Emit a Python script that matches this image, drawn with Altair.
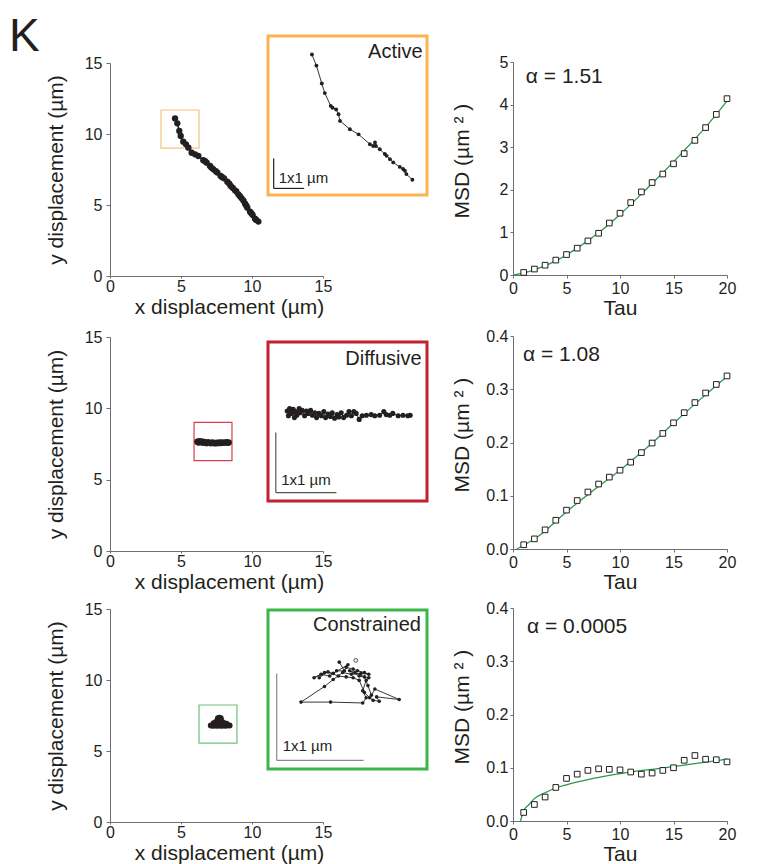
import altair as alt
import pandas as pd

FONT = "Liberation Sans"
INK = "#231f20"
GREEN_FIT = "#2a9a4a"

# ---------------- data ----------------
# Row 1 - Active: main trajectory (µm)
act_x = [4.58, 4.74, 4.88, 4.98, 5.16, 5.35, 5.52, 5.75, 5.99, 6.22, 6.57, 6.70, 6.81, 7.04, 7.15,
         7.28, 7.45, 7.56, 7.79, 7.90, 8.03, 8.26, 8.40, 8.50, 8.65, 8.80, 8.90, 9.04, 9.15, 9.27,
         9.40, 9.51, 9.60, 9.67, 9.86, 9.95, 10.05, 10.21, 10.30, 10.45]
act_y = [11.10, 10.75, 10.21, 9.86, 9.46, 9.27, 9.04, 8.68, 8.57, 8.45, 8.15, 8.08, 7.98, 7.75, 7.62,
         7.51, 7.38, 7.28, 7.04, 6.96, 6.88, 6.64, 6.50, 6.34, 6.20, 6.03, 5.95, 5.75, 5.62, 5.47,
         5.30, 5.09, 4.95, 4.81, 4.53, 4.42, 4.30, 4.04, 3.95, 3.83]
act_roi = [3.59, 6.27, 9.01, 11.69]          # x0, x1, y0, y1 (µm)
# Active inset (µm in inset frame)
act_in_x = [1.47, 1.62, 1.80, 1.90, 2.10, 2.16, 2.28, 2.36, 2.41, 2.74, 3.03, 3.41, 3.52, 3.58, 3.61,
            3.74, 3.91, 3.97, 4.08, 4.19, 4.41, 4.52, 4.58, 4.63, 4.83]
act_in_y = [4.70, 4.33, 3.73, 3.41, 2.98, 2.92, 2.86, 2.70, 2.48, 2.20, 2.03, 1.70, 1.64, 1.76, 1.64,
            1.53, 1.37, 1.31, 1.20, 1.09, 0.94, 0.87, 0.81, 0.70, 0.51]
act_side = 5.32
act_bar = [0.19, 1.21, 0.22, 1.22]           # x0, x1, y0, y1
act_bar_lbl = [0.36, 0.39]
act_lbl = [5.17, 4.59]

# Row 2 - Diffusive
dif_x = [6.15, 6.22, 6.30, 6.38, 6.46, 6.55, 6.63, 6.72, 6.80, 6.90, 7.00, 7.10, 7.20, 7.30, 7.40,
         7.50, 7.60, 7.70, 7.80, 7.90, 8.00, 8.10, 8.20, 8.30, 8.36]
dif_y = [7.66, 7.60, 7.70, 7.62, 7.68, 7.58, 7.65, 7.60, 7.56, 7.63, 7.58, 7.55, 7.61, 7.57, 7.54,
         7.60, 7.56, 7.61, 7.57, 7.62, 7.58, 7.60, 7.63, 7.58, 7.61]
dif_roi = [5.92, 8.59, 6.34, 9.01]
dif_in_x = [0.32, 0.34, 0.36, 0.39, 0.42, 0.44, 0.46, 0.48, 0.52, 0.54, 0.57, 0.61, 0.64, 0.67, 0.71,
            0.74, 0.78, 0.81, 0.85, 0.89, 0.93, 0.96, 1.00, 1.04, 1.07, 1.11, 1.15, 1.18, 1.22, 1.26,
            1.31, 1.35, 1.39, 1.43, 1.47, 1.52, 1.57, 1.64, 1.72, 1.78, 1.86, 1.93, 1.97, 2.03, 2.08,
            2.17, 2.25, 2.33, 2.37]
dif_in_y = [1.50, 1.42, 1.54, 1.46, 1.53, 1.39, 1.49, 1.43, 1.54, 1.47, 1.51, 1.42, 1.50, 1.46, 1.51,
            1.43, 1.47, 1.39, 1.46, 1.42, 1.49, 1.39, 1.45, 1.41, 1.47, 1.38, 1.44, 1.40, 1.47, 1.39,
            1.43, 1.49, 1.42, 1.49, 1.46, 1.36, 1.42, 1.43, 1.44, 1.42, 1.43, 1.49, 1.44, 1.43, 1.46,
            1.42, 1.43, 1.42, 1.43]
dif_side = 2.65
dif_bar = [0.13, 1.14, 0.14, 1.14]
dif_bar_lbl = [0.22, 0.27]
dif_lbl = [2.56, 2.26]

# Row 3 - Constrained
con_x = [7.10, 7.25, 7.40, 7.55, 7.70, 7.85, 8.00, 8.15, 8.30, 8.42, 7.30, 7.45, 7.60, 7.70, 7.80,
         7.90, 8.05, 8.20, 7.50, 7.65, 7.80, 7.95, 7.35, 7.70, 7.60, 7.80]
con_y = [6.80, 6.78, 6.80, 6.77, 6.80, 6.78, 6.80, 6.78, 6.82, 6.80, 6.95, 7.05, 7.15, 7.25, 7.15,
         7.05, 6.95, 6.92, 6.95, 7.00, 6.95, 6.90, 6.88, 7.35, 7.30, 7.30]
con_roi = [6.27, 8.94, 5.56, 8.24]
con_in_x = [0.82, 0.88, 0.79, 0.71, 0.61, 0.53, 0.65, 0.75, 0.92, 0.90, 0.98, 1.03, 1.11, 1.16, 1.07,
            0.96, 0.86, 0.75, 0.65, 0.38, 0.72, 1.09, 1.13, 1.09, 1.13, 1.16, 1.05, 0.94, 1.00, 1.11,
            1.15, 1.19, 1.23, 1.51, 1.25, 1.28, 1.21, 1.17, 1.11, 1.05, 0.98, 0.90, 0.81, 0.69, 0.59]
con_in_y = [1.23, 1.13, 1.13, 1.07, 1.09, 1.05, 1.11, 1.10, 1.20, 1.17, 1.15, 1.13, 1.11, 1.09, 1.10,
            1.09, 1.11, 1.03, 0.95, 0.77, 0.77, 0.76, 0.82, 0.90, 1.02, 1.05, 1.07, 1.13, 1.11, 1.06,
            0.96, 0.85, 0.92, 0.80, 0.83, 0.78, 0.79, 0.82, 0.88, 1.02, 1.05, 1.06, 1.07, 1.12, 1.05]
con_open = [1.01, 1.25]
con_side = 1.83
con_bar = [0.10, 1.10, 0.10, 1.10]
con_bar_lbl = [0.17, 0.21]
con_lbl = [1.76, 1.59]

# MSD curves
tau = list(range(1, 21))
msd_act = [0.06, 0.14, 0.23, 0.35, 0.48, 0.63, 0.80, 0.98, 1.22, 1.45, 1.70, 1.95, 2.17, 2.37, 2.61,
           2.85, 3.16, 3.46, 3.77, 4.14]
msd_dif = [0.008, 0.019, 0.036, 0.054, 0.073, 0.091, 0.107, 0.122, 0.135, 0.148, 0.163, 0.181, 0.199,
           0.217, 0.237, 0.256, 0.275, 0.293, 0.309, 0.325]
msd_con = [0.016, 0.031, 0.045, 0.063, 0.080, 0.088, 0.095, 0.098, 0.097, 0.096, 0.092, 0.088, 0.090,
           0.095, 0.100, 0.114, 0.123, 0.116, 0.115, 0.111]
fit_act_t = [0.1, 2, 4, 6, 8, 10, 12, 14, 16, 18, 20]
fit_act = [0.0, 0.12, 0.33, 0.63, 0.99, 1.42, 1.90, 2.40, 2.92, 3.47, 4.08]
fit_dif_t = [0.35, 2.5, 5, 7.5, 10, 12.5, 15, 17.5, 20]
fit_dif = [0.0, 0.026, 0.070, 0.110, 0.148, 0.190, 0.236, 0.281, 0.324]
fit_con_t = [0.7, 1, 1.5, 2, 3, 4, 5, 7.5, 10, 12.5, 15, 17.5, 20]
fit_con = [0.0, 0.019, 0.031, 0.042, 0.053, 0.062, 0.068, 0.080, 0.089, 0.096, 0.102, 0.109, 0.116]
alpha_txt = ["α = 1.51", "α = 1.08", "α = 0.0005"]
alpha_pos = [[1.2, 4.5], [0.93, 0.353], [1.3, 0.353]]


def traj_chart(mx, my, roi, ix, iy, side, bar, bar_lbl, lbl_pos, name,
               frame_col, roi_col, bar_col, h, main_yr, inset_yr,
               dot_main, dot_in, main_line, open_pt=None, k=False):
    msx = alt.Scale(domain=[0, 15], range=[0, 213], nice=False, zero=False)
    msy = alt.Scale(domain=[0, 15], range=main_yr, nice=False, zero=False)
    isx = alt.Scale(domain=[0, side], range=[158, 317], nice=False, zero=False)
    isy = alt.Scale(domain=[0, side], range=inset_yr, nice=False, zero=False)

    xa = alt.Axis(values=[0, 5, 10, 15], title="x displacement (µm)", tickSize=2, labelPadding=0,
                  minExtent=18, maxExtent=18, titlePadding=2, titleX=119, labelFlush=False)
    ya = alt.Axis(values=[0, 5, 10, 15], title="y displacement (µm)", tickSize=4, labelPadding=4,
                  minExtent=26, maxExtent=26, titlePadding=18, labelFlush=False)

    mdf = pd.DataFrame({"x": mx, "y": my, "i": list(range(len(mx)))})
    idf = pd.DataFrame({"x": ix, "y": iy, "i": list(range(len(ix)))})

    layers = []
    layers.append(
        alt.Chart(pd.DataFrame({"x0": [roi[0]], "x1": [roi[1]], "y0": [roi[2]], "y1": [roi[3]]}))
        .mark_rect(fillOpacity=0, stroke=roi_col, strokeWidth=1.2)
        .encode(x=alt.X("x0:Q", scale=msx, axis=None), x2="x1:Q",
                y=alt.Y("y0:Q", scale=msy, axis=None), y2="y1:Q"))
    if main_line:
        layers.append(
            alt.Chart(mdf).mark_line(color=INK, strokeWidth=1.5)
            .encode(x=alt.X("x:Q", scale=msx, axis=None), y=alt.Y("y:Q", scale=msy, axis=None),
                    order="i:Q"))
    layers.append(
        alt.Chart(mdf).mark_circle(size=dot_main, color=INK, opacity=1)
        .encode(x=alt.X("x:Q", scale=msx, axis=xa), y=alt.Y("y:Q", scale=msy, axis=ya)))
    # inset frame
    layers.append(
        alt.Chart(pd.DataFrame({"x0": [0], "x1": [side], "y0": [0], "y1": [side]}))
        .mark_rect(fillOpacity=0, stroke=frame_col, strokeWidth=3)
        .encode(x=alt.X("x0:Q", scale=isx, axis=None), x2="x1:Q",
                y=alt.Y("y0:Q", scale=isy, axis=None), y2="y1:Q"))
    layers.append(
        alt.Chart(idf).mark_line(color=INK, strokeWidth=0.9)
        .encode(x=alt.X("x:Q", scale=isx, axis=None), y=alt.Y("y:Q", scale=isy, axis=None),
                order="i:Q"))
    layers.append(
        alt.Chart(idf).mark_circle(size=dot_in, color=INK, opacity=1)
        .encode(x=alt.X("x:Q", scale=isx, axis=None), y=alt.Y("y:Q", scale=isy, axis=None)))
    if open_pt is not None:
        layers.append(
            alt.Chart(pd.DataFrame({"x": [open_pt[0]], "y": [open_pt[1]]}))
            .mark_point(shape="circle", size=14, filled=False, color=INK, strokeWidth=0.8, opacity=1)
            .encode(x=alt.X("x:Q", scale=isx, axis=None), y=alt.Y("y:Q", scale=isy, axis=None)))
    bdf = pd.DataFrame({"x0": [bar[0], bar[0]], "x1": [bar[0], bar[1]],
                        "y0": [bar[2], bar[2]], "y1": [bar[3], bar[2]]})
    layers.append(
        alt.Chart(bdf).mark_rule(color=bar_col, strokeWidth=1.2)
        .encode(x=alt.X("x0:Q", scale=isx, axis=None), x2="x1:Q",
                y=alt.Y("y0:Q", scale=isy, axis=None), y2="y1:Q"))
    layers.append(
        alt.Chart(pd.DataFrame({"x": [bar_lbl[0]], "y": [bar_lbl[1]], "t": ["1x1 µm"]}))
        .mark_text(align="left", baseline="alphabetic", fontSize=15, color=INK)
        .encode(x=alt.X("x:Q", scale=isx, axis=None), y=alt.Y("y:Q", scale=isy, axis=None),
                text="t:N"))
    layers.append(
        alt.Chart(pd.DataFrame({"x": [lbl_pos[0]], "y": [lbl_pos[1]], "t": [name]}))
        .mark_text(align="right", baseline="alphabetic", fontSize=20, color=INK)
        .encode(x=alt.X("x:Q", scale=isx, axis=None), y=alt.Y("y:Q", scale=isy, axis=None),
                text="t:N"))
    if k:
        layers.append(
            alt.Chart(pd.DataFrame({"t": ["K"]}))
            .mark_text(align="left", baseline="top", fontSize=46, color=INK)
            .encode(x=alt.value(-101), y=alt.value(-21), text="t:N"))
    return alt.layer(*layers).resolve_scale(x="independent", y="independent").properties(
        width=318, height=h)


def msd_chart(vals, ft, fv, ymax, yvals, yfmt, yr, h, xoff, title_y, atxt, apos):
    sx = alt.Scale(domain=[0, 20], range=[0, 214], nice=False, zero=False)
    sy = alt.Scale(domain=[0, ymax], range=yr, nice=False, zero=False)
    xa = alt.Axis(values=[0, 5, 10, 15, 20], title="Tau", tickSize=3, labelPadding=2,
                  minExtent=21, maxExtent=21, titlePadding=1, offset=xoff, labelFlush=False)
    ya = alt.Axis(values=yvals, format=yfmt, title="MSD (µm ² )", tickSize=3, labelPadding=2,
                  minExtent=27, maxExtent=27, titlePadding=14, titleY=title_y, labelFlush=False)
    fit = alt.Chart(pd.DataFrame({"t": ft, "m": fv})).mark_line(
        color=GREEN_FIT, strokeWidth=1.3, interpolate="monotone").encode(
        x=alt.X("t:Q", scale=sx, axis=xa), y=alt.Y("m:Q", scale=sy, axis=ya))
    pts = alt.Chart(pd.DataFrame({"t": tau, "m": vals})).mark_point(
        shape="square", size=32, fill="white", stroke=INK, strokeWidth=1, opacity=1, fillOpacity=1).encode(
        x=alt.X("t:Q", scale=sx), y=alt.Y("m:Q", scale=sy))
    txt = alt.Chart(pd.DataFrame({"t": [apos[0]], "m": [apos[1]], "s": [atxt]})).mark_text(
        align="left", baseline="alphabetic", fontSize=21, color=INK).encode(
        x=alt.X("t:Q", scale=sx), y=alt.Y("m:Q", scale=sy), text="s:N")
    return alt.layer(fit, pts, txt).properties(width=214, height=h)


L1 = traj_chart(act_x, act_y, act_roi, act_in_x, act_in_y, act_side, act_bar, act_bar_lbl, act_lbl,
                "Active", "#fbb450", "#f8c27e", INK, 240, [240, 27], [159, 0], 40, 15, True, k=True)
L2 = traj_chart(dif_x, dif_y, dif_roi, dif_in_x, dif_in_y, dif_side, dif_bar, dif_bar_lbl, dif_lbl,
                "Diffusive", "#c4202e", "#d6404c", "#555555", 218, [218, 4], [168, 9], 40, 26, True)
L3 = traj_chart(con_x, con_y, con_roi, con_in_x, con_in_y, con_side, con_bar, con_bar_lbl, con_lbl,
                "Constrained", "#3db54a", "#6fc27b", "#8a8a8a", 214, [214, 1], [161, 2], 36, 13, False,
                open_pt=con_open)

R1 = msd_chart(msd_act, fit_act_t, fit_act, 5, [0, 1, 2, 3, 4, 5], "d", [239, 26], 240, -1, 124.5,
               alpha_txt[0], alpha_pos[0])
R2 = msd_chart(msd_dif, fit_dif_t, fit_dif, 0.4, [0, 0.1, 0.2, 0.3, 0.4], ".1f", [216, 3], 218, -2, 101.5,
               alpha_txt[1], alpha_pos[1])
R3 = msd_chart(msd_con, fit_con_t, fit_con, 0.4, [0, 0.1, 0.2, 0.3, 0.4], ".1f", [213, 0], 214, -1, 98.5,
               alpha_txt[2], alpha_pos[2])

chart = alt.concat(L1, R1, L2, R2, L3, R3, columns=2, spacing={"row": 57, "column": 85},
                   bounds="flush", align="each").properties(
    padding={"left": 1, "top": 6, "right": 5, "bottom": 5}
).configure_view(stroke=None).configure_axis(
    grid=False, labelFont=FONT, titleFont=FONT, labelFontSize=16, titleFontSize=21,
    titleFontWeight="normal", labelColor=INK, titleColor=INK, domainColor="#6d6e71",
    tickColor="#6d6e71", domainWidth=1, tickWidth=1
).configure_text(font=FONT)

chart.save("out.html", embed_options={"renderer": "svg", "actions": False})
